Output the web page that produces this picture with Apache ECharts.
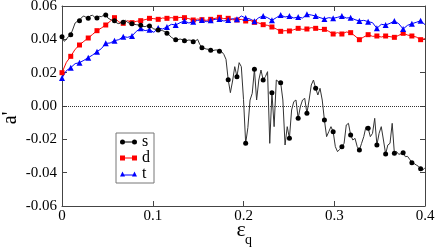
<!DOCTYPE html>
<html>
<head>
<meta charset="utf-8">
<script src="https://cdn.jsdelivr.net/npm/echarts@6/dist/echarts.min.js"></script>
<style>html,body{margin:0;padding:0;background:#fff}#c{width:436px;height:247px}</style>
</head>
<body>
<div id="c"></div>
<script>
// x range of the data (all series share the same sampling grid)
const X_MAX = 0.4;
const xTickLabels = ['0', '0.1', '0.2', '0.3', '0.4'];
const yTickLabels = ['-0.06', '-0.04', '-0.02', '0.00', '0.02', '0.04', '0.06'];
const seriesNames = ['s', 'd', 't'];
const xTitleMain = 'ε';
const xTitleSub = 'q';
const yTitle = "a'";

// s : black circles (fine sampling)
const sValues = [
  0.0416, 0.0388, 0.0400, 0.0418, 0.0428, 0.0462, 0.0498, 0.0508, 0.0512, 0.0532,
  0.0540, 0.0532, 0.0526, 0.0542, 0.0544, 0.0532, 0.0528, 0.0538, 0.0536, 0.0544,
  0.0546, 0.0528, 0.0520, 0.0514, 0.0512, 0.0498, 0.0494, 0.0500, 0.0502, 0.0514,
  0.0502, 0.0496, 0.0494, 0.0490, 0.0488, 0.0486, 0.0484, 0.0478, 0.0476, 0.0482,
  0.0480, 0.0472, 0.0462, 0.0460, 0.0456, 0.0456, 0.0452, 0.0446, 0.0436, 0.0426,
  0.0412, 0.0404, 0.0398, 0.0398, 0.0402, 0.0398, 0.0392, 0.0392, 0.0396, 0.0394,
  0.0386, 0.0390, 0.0400, 0.0370, 0.0350, 0.0346, 0.0342, 0.0340, 0.0334, 0.0332,
  0.0336, 0.0336, 0.0328, 0.0326, 0.0310, 0.0280, 0.0158, 0.0080, 0.0150, 0.0236,
  0.0176, 0.0260, 0.0236, 0.0040, -0.0224, -0.0130, 0.0036, 0.0076, 0.0220, 0.0036,
  0.0156, 0.0216, 0.0156, 0.0176, 0.0206, -0.0224, 0.0080, -0.0124, 0.0156, 0.0146,
  0.0140, 0.0036, -0.0234, -0.0124, -0.0194, -0.0024, 0.0026, 0.0036, -0.0074, -0.0004,
  0.0036, 0.0046, -0.0044, 0.0036, 0.0126, 0.0156, 0.0106, 0.0066, 0.0106, 0.0036,
  -0.0084, -0.0184, -0.0154, -0.0124, -0.0154, -0.0244, -0.0274, -0.0260, -0.0244, -0.0224,
  -0.0114, -0.0104, -0.0174, -0.0204, -0.0194, -0.0244, -0.0264, -0.0224, -0.0184, -0.0124,
  -0.0134, -0.0184, -0.0164, -0.0074, -0.0234, -0.0164, -0.0124, -0.0204, -0.0288, -0.0234,
  -0.0224, -0.0104, -0.0284, -0.0274, -0.0290, -0.0286, -0.0280, -0.0304, -0.0302, -0.0320,
  -0.0340, -0.0345, -0.0354, -0.0362, -0.0376, -0.0384, -0.0370
];

// d : red squares
const dValues = [
  0.0200, 0.0262, 0.0298, 0.0340, 0.0366, 0.0388, 0.0408, 0.0430, 0.0452, 0.0468,
  0.0486, 0.0508, 0.0530, 0.0504, 0.0496, 0.0512, 0.0500, 0.0508, 0.0512, 0.0518,
  0.0526, 0.0524, 0.0520, 0.0528, 0.0526, 0.0530, 0.0526, 0.0532, 0.0530, 0.0524,
  0.0516, 0.0522, 0.0518, 0.0514, 0.0520, 0.0526, 0.0532, 0.0524, 0.0526, 0.0518,
  0.0516, 0.0520, 0.0510, 0.0514, 0.0502, 0.0498, 0.0488, 0.0484, 0.0474, 0.0462,
  0.0448, 0.0452, 0.0450, 0.0458, 0.0466, 0.0460, 0.0462, 0.0470, 0.0466, 0.0458,
  0.0460, 0.0448, 0.0432, 0.0440, 0.0432, 0.0444, 0.0440, 0.0420, 0.0398, 0.0414,
  0.0428, 0.0418, 0.0420, 0.0414, 0.0420, 0.0416, 0.0412, 0.0424, 0.0436, 0.0426,
  0.0420, 0.0414, 0.0398, 0.0404
];

// t : blue triangles
const tValues = [
  0.0168, 0.0212, 0.0230, 0.0254, 0.0260, 0.0274, 0.0290, 0.0306, 0.0326, 0.0344,
  0.0376, 0.0378, 0.0392, 0.0398, 0.0416, 0.0412, 0.0420, 0.0448, 0.0466, 0.0452,
  0.0458, 0.0442, 0.0468, 0.0462, 0.0474, 0.0490, 0.0486, 0.0500, 0.0510, 0.0498,
  0.0506, 0.0514, 0.0516, 0.0506, 0.0514, 0.0520, 0.0522, 0.0510, 0.0516, 0.0524,
  0.0520, 0.0540, 0.0528, 0.0522, 0.0508, 0.0530, 0.0540, 0.0530, 0.0514, 0.0530,
  0.0546, 0.0534, 0.0540, 0.0528, 0.0534, 0.0528, 0.0550, 0.0546, 0.0540, 0.0530,
  0.0522, 0.0530, 0.0526, 0.0532, 0.0540, 0.0528, 0.0530, 0.0518, 0.0510, 0.0514,
  0.0506, 0.0500, 0.0466, 0.0490, 0.0486, 0.0496, 0.0510, 0.0494, 0.0462, 0.0484,
  0.0494, 0.0502, 0.0512, 0.0488
];

function toPairs(vals) {
  const step = X_MAX / (vals.length - 1);
  return vals.map((v, i) => [i * step, v]);
}

const SERIF = 'Liberation Serif';
const AX = '#444';

const chart = echarts.init(document.getElementById('c'), null, {renderer: 'canvas'});

function xAxisCfg(pos, withLabels) {
  return {
    type: 'value', position: pos, min: 0, max: 0.4, interval: 0.1,
    axisLine: {show: true, onZero: false, lineStyle: {color: AX, width: 1}},
    axisTick: {show: true, inside: true, length: 5, lineStyle: {color: AX, width: 1}},
    axisLabel: {show: withLabels, fontFamily: SERIF, fontSize: 15, color: '#000', margin: 3,
      formatter: (v) => xTickLabels[Math.round(v / 0.1)]},
    splitLine: {show: false}
  };
}
function yAxisCfg(pos, withLabels) {
  return {
    type: 'value', position: pos, min: -0.06, max: 0.06, interval: 0.02,
    axisLine: {show: true, onZero: false, lineStyle: {color: AX, width: 1}},
    axisTick: {show: true, inside: true, length: 5, lineStyle: {color: AX, width: 1}},
    axisLabel: {show: withLabels, fontFamily: SERIF, fontSize: 15, color: '#000', margin: 5,
      formatter: (v) => yTickLabels[Math.round((v + 0.06) / 0.02)]},
    splitLine: {show: false}
  };
}

const circleIcon = 'path://M0,2.5 A2.5,2.5 0 1,1 5,2.5 A2.5,2.5 0 1,1 0,2.5 Z M12,2.5 A2.5,2.5 0 1,1 17,2.5 A2.5,2.5 0 1,1 12,2.5 Z M4,2 L13,2 L13,3 L4,3 Z';
const squareIcon = 'path://M0,0 L5,0 L5,5 L0,5 Z M12,0 L17,0 L17,5 L12,5 Z M4,2 L13,2 L13,3 L4,3 Z';
const triIcon = 'path://M2.5,0 L5,5 L0,5 Z M14.5,0 L17,5 L12,5 Z M4,3 L13,3 L13,4 L4,4 Z';

chart.setOption({
  animation: false,
  backgroundColor: '#fff',
  textStyle: {fontFamily: SERIF},
  grid: {left: 62, right: 11, top: 6, bottom: 41, containLabel: false, outerBoundsMode: 'none'},
  xAxis: [xAxisCfg('bottom', true), xAxisCfg('top', false)],
  yAxis: [yAxisCfg('left', true), yAxisCfg('right', false)],
  graphic: [
    {type: 'text', x: 241, y: 230, silent: true,
      style: {text: xTitleMain, fontFamily: SERIF, fontSize: 22, fill: '#000', align: 'center', verticalAlign: 'middle'}},
    {type: 'text', x: 245, y: 240, silent: true,
      style: {text: xTitleSub, fontFamily: SERIF, fontSize: 14, fill: '#000', align: 'left', verticalAlign: 'middle'}},
    {type: 'text', x: 11, y: 118, rotation: Math.PI / 2, silent: true,
      style: {text: yTitle, fontFamily: SERIF, fontSize: 20, fill: '#000', align: 'center', verticalAlign: 'middle'}}
  ],
  legend: {
    orient: 'vertical', left: 116, top: 133,
    itemWidth: 17, itemHeight: 5, itemGap: 0, itemTextGap: 5,
    padding: [1, 4, 1, 4],
    borderColor: '#777', borderWidth: 1, backgroundColor: '#fff',
    textStyle: {fontFamily: SERIF, fontSize: 16, color: '#000', lineHeight: 13},
    data: [
      {name: seriesNames[0], icon: circleIcon},
      {name: seriesNames[1], icon: squareIcon},
      {name: seriesNames[2], icon: triIcon}
    ]
  },
  series: [
    {
      name: seriesNames[0], type: 'line', xAxisIndex: 0, yAxisIndex: 0,
      data: toPairs(sValues),
      symbol: 'circle', showSymbol: true,
      symbolSize: (v, p) => (p.dataIndex % 4 === 0 ? 5 : 0),
      itemStyle: {color: '#000'},
      lineStyle: {color: '#333', width: 1},
      z: 3,
      markLine: {
        silent: true, symbol: ['none', 'none'], label: {show: false},
        lineStyle: {type: 'dotted', color: '#333', width: 1},
        data: [{yAxis: 0}]
      }
    },
    {
      name: seriesNames[1], type: 'line', xAxisIndex: 0, yAxisIndex: 0,
      data: toPairs(dValues),
      symbol: 'rect', showSymbol: true,
      symbolSize: (v, p) => (p.dataIndex % 2 === 0 ? 5 : 0),
      itemStyle: {color: '#ff0000'},
      lineStyle: {color: '#ff0000', width: 1},
      z: 2
    },
    {
      name: seriesNames[2], type: 'line', xAxisIndex: 0, yAxisIndex: 0,
      data: toPairs(tValues),
      symbol: 'triangle', showSymbol: true,
      symbolSize: (v, p) => (p.dataIndex % 2 === 0 ? 6 : 0),
      itemStyle: {color: '#0000ff'},
      lineStyle: {color: '#0000ff', width: 1},
      z: 2
    }
  ]
});
</script>
</body>
</html>
